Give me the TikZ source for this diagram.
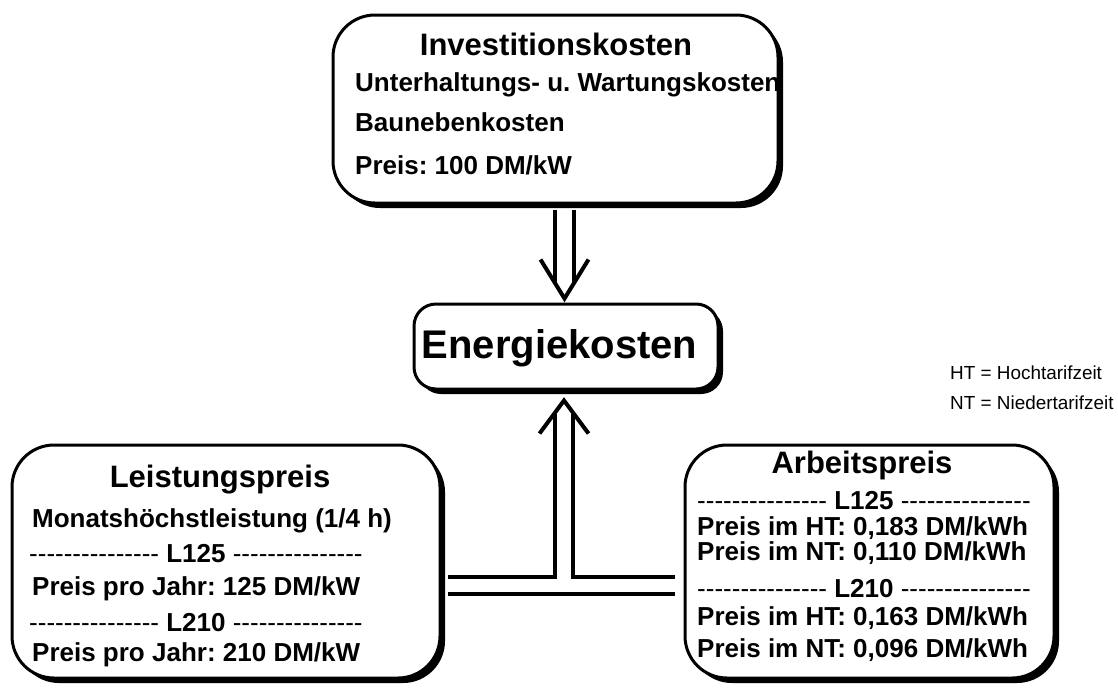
\documentclass[tikz,border=0pt]{standalone}
\usepackage{fontspec}
\setmainfont{Liberation Sans}
\usetikzlibrary{shadows,calc}
\frenchspacing
\newcommand\hyrow{{\mdseries\foreach \k in {1,...,15}{-\kern0pt}}}
\tikzset{
  bigbox/.style={draw, line width=3pt, rounded corners=42pt, fill=white, inner sep=0pt,
    drop shadow={shadow xshift=5pt, shadow yshift=-5pt, fill=black, opacity=1}},
  ekbox/.style={draw, line width=3pt, rounded corners=22pt, fill=white, inner sep=0pt,
    drop shadow={shadow xshift=5pt, shadow yshift=-5pt, fill=black, opacity=1}},
  head/.style={inner sep=0pt, anchor=base, font=\bfseries\fontsize{31}{36}\selectfont},
  txt/.style={inner sep=0pt, anchor=base west, font=\bfseries\fontsize{26}{30}\selectfont},
  leg/.style={inner sep=0pt, anchor=base west, font=\fontsize{18.9}{22}\selectfont},
  conn/.style={line width=4pt, line join=miter},
}
\begin{document}
\begin{tikzpicture}[x=1pt, y=-1pt]
\fill[white] (0,0) rectangle (1118,689);
\useasboundingbox (0,0) rectangle (1118,689);

% boxes
\node[bigbox, minimum width=445pt, minimum height=188pt] (top) at (555.5,109) {};
\node[ekbox, minimum width=304pt, minimum height=85pt] (ek) at (566,346.5) {};
\node[bigbox, minimum width=428pt, minimum height=233pt] (lp) at (226,561.5) {};
\node[bigbox, minimum width=369pt, minimum height=233pt] (ap) at (869.5,561.5) {};

% top box text
\node[head] (t0) at (556,55) {Investitionskosten};
\node[txt] (t1) at (355,91) {Unterhaltungs- u. Wartungskosten};
\node[txt] (t2) at (355,131) {Baunebenkosten};
\node[txt] (t3) at (355,174) {Preis: 100 DM/kW};

% Energiekosten
\node[inner sep=0pt, anchor=base, font=\bfseries\fontsize{40}{48}\selectfont] (ekt) at (559.5,358) {Energiekosten};

% left box text
\node[head] (l0) at (220,487) {Leistungspreis};
\node[txt] (l1) at (32,527) {Monatshöchstleistung (1/4 h)};
\node[txt] (l2) at (29,562) {\hyrow{} L125 \hyrow};
\node[txt] (l3) at (32,595) {Preis pro Jahr: 125 DM/kW};
\node[txt] (l4) at (29,631) {\hyrow{} L210 \hyrow};
\node[txt] (l5) at (32,661) {Preis pro Jahr: 210 DM/kW};

% right box text
\node[head] (r0) at (862,473) {Arbeitspreis};
\node[txt] (r1) at (697,509) {\hyrow{} L125 \hyrow};
\node[txt] (r2) at (697,535) {Preis im HT: 0,183 DM/kWh};
\node[txt] (r3) at (697,560) {Preis im NT: 0,110 DM/kWh};
\node[txt] (r4) at (697,597) {\hyrow{} L210 \hyrow};
\node[txt] (r5) at (697,625) {Preis im HT: 0,163 DM/kWh};
\node[txt] (r6) at (697,657) {Preis im NT: 0,096 DM/kWh};

% legend
\node[leg] (g1) at (950,379) {HT = Hochtarifzeit};
\node[leg] (g2) at (950,409) {NT = Niedertarifzeit};

% top double arrow
\coordinate (tipA) at ($(ek.north)+(-1.5,-4)$);
\draw[conn] ($(top.south -| tipA)+(-9.5,5)$) -- ($(tipA)+(-9.5,-16)$);
\draw[conn] ($(top.south -| tipA)+(9.5,5)$) -- ($(tipA)+(9.5,-16)$);
\draw[conn] ($(tipA)+(-24,-39)$) -- (tipA) -- ($(tipA)+(24,-39)$);

% bottom double arrow (T-shaped)
\coordinate (tipB) at ($(ek.south)+(-2,10)$);
\draw[conn] ($(lp.east)+(6,15.5)$) -| ($(tipB)+(-9,13)$);
\draw[conn] ($(tipB)+(9,13)$) |- ($(ap.west)+(-9,15.5)$);
\draw[conn] ($(lp.east)+(6,32.5)$) -- ($(ap.west)+(-9,32.5)$);
\draw[conn] ($(tipB)+(-24.5,33)$) -- (tipB) -- ($(tipB)+(24.5,33)$);
\end{tikzpicture}
\end{document}
